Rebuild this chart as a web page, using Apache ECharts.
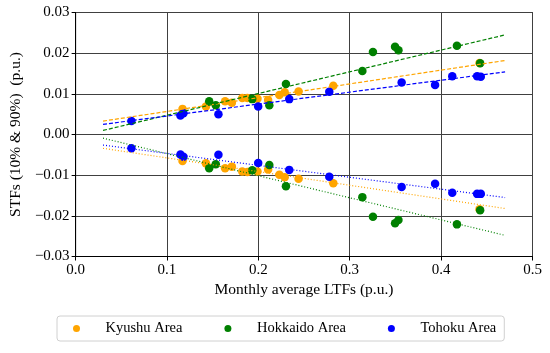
<!DOCTYPE html>
<html>
<head>
<meta charset="utf-8">
<script src="https://cdn.jsdelivr.net/npm/echarts@6/dist/echarts.min.js"></script>
<style>html,body{margin:0;padding:0;background:#fff;}#chart{width:550px;height:353px;}</style>
</head>
<body>
<div id="chart"></div>
<script>
// Kyushu
const kyushuX = [0.117, 0.1426, 0.1636, 0.171, 0.1824, 0.188, 0.199, 0.2107, 0.223, 0.2288, 0.244, 0.282, 0.442];
const kyushuUpper = [0.0063, 0.0069, 0.0082, 0.0078, 0.0090, 0.0090, 0.0088, 0.0085, 0.0097, 0.0104, 0.0106, 0.0120, 0.0176];
const kyushuLower = [-0.0065, -0.0071, -0.0083, -0.0079, -0.0091, -0.0092, -0.0091, -0.0086, -0.0099, -0.0105, -0.0109, -0.0120, -0.0184];
// Hokkaido
const hokkaidoX = [0.1462, 0.1534, 0.1933, 0.212, 0.2302, 0.3138, 0.3254, 0.3496, 0.3533, 0.4173, 0.4427];
const hokkaidoUpper = [0.0082, 0.0072, 0.0087, 0.0072, 0.0124, 0.0156, 0.0203, 0.0216, 0.0207, 0.0218, 0.0175];
const hokkaidoLower = [-0.0083, -0.0073, -0.0088, -0.0075, -0.0127, -0.0154, -0.0202, -0.0218, -0.0210, -0.0221, -0.0186];
// Tohoku
const tohokuX = [0.0611, 0.1147, 0.118, 0.1563, 0.1998, 0.2338, 0.2776, 0.3568, 0.3934, 0.4122, 0.4394, 0.4434];
const tohokuUpper = [0.0033, 0.0047, 0.0052, 0.0050, 0.0069, 0.0087, 0.0105, 0.0128, 0.0122, 0.0143, 0.0143, 0.0142];
const tohokuLower = [-0.0034, -0.0049, -0.0055, -0.0050, -0.0070, -0.0087, -0.0104, -0.0129, -0.0121, -0.0143, -0.0146, -0.0146];
// Trend line end points
const trendX = [0.03, 0.47];
const kyushuTrendUpper = [0.0033, 0.0182];
const kyushuTrendLower = [-0.0034, -0.0182];
const hokkaidoTrendUpper = [0.0010, 0.0245];
const hokkaidoTrendLower = [-0.0009, -0.0248];
const tohokuTrendUpper = [0.0025, 0.0154];
const tohokuTrendLower = [-0.0026, -0.0155];

const names = ['Kyushu Area', 'Hokkaido Area', 'Tohoku Area'];
const colors = ['#FFA500', '#008000', '#0000FF'];

const font = 'Liberation Serif';
const zip = (xs, ys) => xs.map((x, i) => [x, ys[i]]);

function scatter(name, color, data, showName) {
  return {
    name: showName ? name : name + ' ',
    type: 'scatter', data: data, symbolSize: 8.5,
    itemStyle: { color: color, opacity: 1 }, z: 3
  };
}
function trend(color, ys, dash) {
  return {
    type: 'line', data: zip(trendX, ys), symbol: 'none', silent: true,
    lineStyle: { color: color, width: 1.2, type: dash }, z: 4
  };
}

const series = [
  scatter(names[0], colors[0], zip(kyushuX, kyushuUpper), true),
  scatter(names[0], colors[0], zip(kyushuX, kyushuLower), false),
  scatter(names[1], colors[1], zip(hokkaidoX, hokkaidoUpper), true),
  scatter(names[1], colors[1], zip(hokkaidoX, hokkaidoLower), false),
  scatter(names[2], colors[2], zip(tohokuX, tohokuUpper), true),
  scatter(names[2], colors[2], zip(tohokuX, tohokuLower), false),
  trend(colors[0], kyushuTrendUpper, [4, 2]),
  trend(colors[0], kyushuTrendLower, [1, 2]),
  trend(colors[1], hokkaidoTrendUpper, [4, 2]),
  trend(colors[1], hokkaidoTrendLower, [1, 2]),
  trend(colors[2], tohokuTrendUpper, [4, 2]),
  trend(colors[2], tohokuTrendLower, [1, 2])
];

const chart = echarts.init(document.getElementById('chart'), null, { renderer: 'canvas' });
chart.setOption({
  animation: false,
  backgroundColor: '#fff',
  grid: { left: 72, right: 17.5, top: 12.5, bottom: 96.5, show: true, borderColor: '#000', borderWidth: 1 },
  xAxis: {
    type: 'value', min: 0, max: 0.5, interval: 0.1,
    name: 'Monthly average LTFs (p.u.)', nameLocation: 'middle', nameGap: 24,
    nameTextStyle: { fontFamily: font, fontSize: 15.5, color: '#000' },
    axisLine: { show: true, onZero: false, lineStyle: { color: '#000', width: 1 } },
    axisTick: { show: true, inside: false, length: 4, lineStyle: { color: '#000' } },
    axisLabel: { fontFamily: font, fontSize: 15, color: '#000', margin: 6, formatter: v => v.toFixed(1) },
    splitLine: { show: true, lineStyle: { color: '#404040', width: 1 } }
  },
  yAxis: {
    type: 'value', min: -0.03, max: 0.03, interval: 0.01,
    name: 'STFs (10% & 90%)  (p.u.)', nameLocation: 'middle', nameGap: 50,
    nameTextStyle: { fontFamily: font, fontSize: 15.5, color: '#000' },
    axisLine: { show: true, onZero: false, lineStyle: { color: '#000', width: 1 } },
    axisTick: { show: true, inside: false, length: 4, lineStyle: { color: '#000' } },
    axisLabel: { fontFamily: font, fontSize: 15, color: '#000', margin: 6,
      formatter: v => { const s = Math.abs(v).toFixed(2); return v < -1e-9 ? '\u2212' + s : s; } },
    splitLine: { show: true, lineStyle: { color: '#404040', width: 1 } }
  },
  legend: {
    data: names, left: 57, top: 316,
    icon: 'circle', itemWidth: 14, itemHeight: 7, itemGap: 42,
    padding: [5, 8, 5, 16],
    borderColor: '#d0d0d0', borderWidth: 1, borderRadius: 3,
    textStyle: { fontFamily: font, fontSize: 14.5, color: '#000', padding: [0, 0, 0, 17] },
    selectedMode: false
  },
  series: series
});
</script>
</body>
</html>
